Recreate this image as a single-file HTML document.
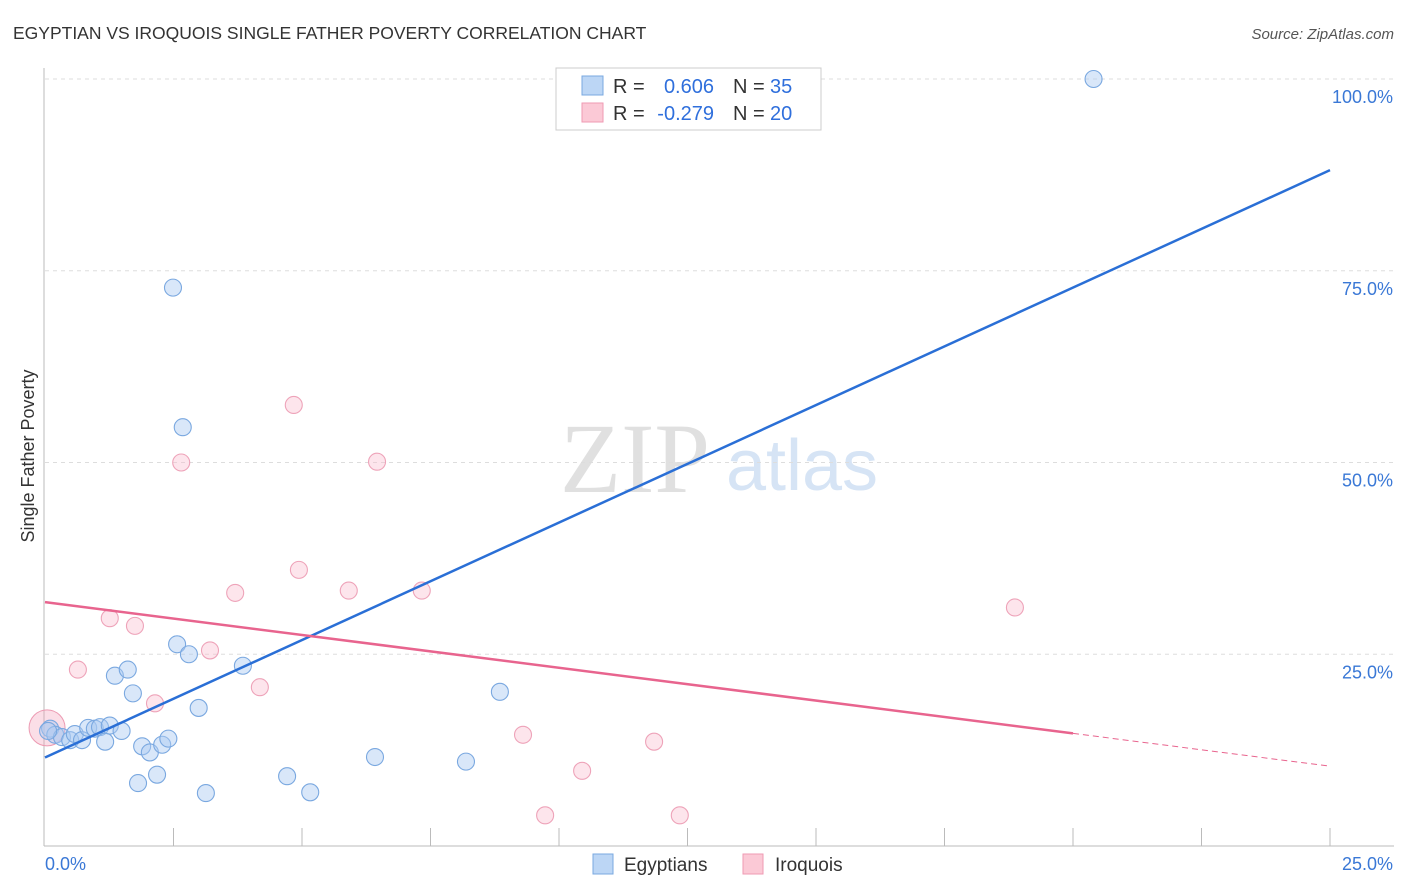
<!DOCTYPE html>
<html><head><meta charset="utf-8"><style>
body{margin:0;background:#fff;font-family:"Liberation Sans",sans-serif;}
svg{display:block}
</style></head><body>
<svg id="c" width="1406" height="892">
<text x="13" y="39" font-size="17.5" fill="#333">EGYPTIAN VS IROQUOIS SINGLE FATHER POVERTY CORRELATION CHART</text>
<text x="1394" y="39" font-size="15" fill="#555" text-anchor="end" font-style="italic">Source: ZipAtlas.com</text>
<text x="0" y="0" transform="translate(34,456) rotate(-90)" font-size="18" fill="#333" text-anchor="middle">Single Father Poverty</text>
<text x="635" y="492" font-size="100" fill="#e0e0e0" text-anchor="middle" font-family="Liberation Serif,serif">ZIP</text>
<text x="802" y="490" font-size="72" fill="#d6e4f5" text-anchor="middle">atlas</text>
<g id="grid"></g><g id="pts"></g><g id="lines"></g>
<g>
<rect x="556" y="68" width="265" height="62" fill="#fff" stroke="#ccc"/>
<rect x="582" y="76" width="21" height="19" fill="#bcd6f5" stroke="#7aa8e0"/>
<rect x="582" y="103" width="21" height="19" fill="#fbc9d6" stroke="#ef9ab3"/>
<text x="613" y="93" font-size="20" fill="#333">R =</text>
<text x="714" y="93" font-size="20" fill="#2f6fdc" text-anchor="end">0.606</text>
<text x="733" y="93" font-size="20" fill="#333">N =</text>
<text x="770" y="93" font-size="20" fill="#2f6fdc">35</text>
<text x="613" y="120" font-size="20" fill="#333">R =</text>
<text x="714" y="120" font-size="20" fill="#2f6fdc" text-anchor="end">-0.279</text>
<text x="733" y="120" font-size="20" fill="#333">N =</text>
<text x="770" y="120" font-size="20" fill="#2f6fdc">20</text>
</g>
<g>
<rect x="593" y="854" width="20" height="20" fill="#bcd6f5" stroke="#7aa8e0"/>
<text x="624" y="871" font-size="19" fill="#333">Egyptians</text>
<rect x="743" y="854" width="20" height="20" fill="#fbc9d6" stroke="#ef9ab3"/>
<text x="775" y="871" font-size="19" fill="#333">Iroquois</text>
</g>
<text x="45" y="870" font-size="18" fill="#3a78d6">0.0%</text>
<text x="1393" y="870" font-size="18" fill="#3a78d6" text-anchor="end">25.0%</text>
</svg>
<script>
const yTicks=[25,50,75,100];
const egX=[0.1,0.2,0.33,0.49,0.58,0.72,0.84,0.97,1.07,1.17,1.26,1.36,1.49,1.61,1.71,1.81,1.89,2.04,2.18,2.28,2.4,2.49,2.57,2.68,2.8,2.99,3.13,3.85,4.71,5.16,6.42,8.19,8.85,20.4,0.06];
const egY=[15.3,14.5,14.2,13.8,14.6,13.8,15.4,15.3,15.5,13.6,15.7,22.2,15,23,19.9,8.2,13,12.2,9.3,13.2,14,72.8,26.3,54.6,25,18,6.9,23.5,9.1,7,11.6,11,20.1,100,15];
const iqX=[0.04,0.64,1.26,1.75,2.14,2.65,3.21,3.7,4.18,4.84,4.94,5.91,6.46,7.33,9.3,9.73,10.45,11.85,12.35,18.87];
const iqY=[15.4,23,29.7,28.7,18.6,50,25.5,33,20.7,57.5,36,33.3,50.1,33.3,14.5,4,9.8,13.6,4,31.1];
const X=v=>45+v/25*1285, Y=v=>846-v/100*767;
const NS='http://www.w3.org/2000/svg';
function mk(t,a,p){const e=document.createElementNS(NS,t);for(const k in a)e.setAttribute(k,a[k]);document.getElementById(p).appendChild(e);return e;}
mk('line',{x1:44,y1:68,x2:44,y2:846,stroke:'#bbb'},'grid');
mk('line',{x1:44,y1:846,x2:1394,y2:846,stroke:'#bbb'},'grid');
for(let i=1;i<=10;i++)mk('line',{x1:X(i*2.5),y1:828,x2:X(i*2.5),y2:846,stroke:'#bbb'},'grid');
yTicks.forEach(t=>{
const l=mk('line',{x1:45,y1:Y(t),x2:1394,y2:Y(t),stroke:'#ddd','stroke-dasharray':'4,4'},'grid');


const tx=mk('text',{x:1393,y:Y(t)+24,'font-size':18,fill:'#3a78d6','text-anchor':'end'},'grid');tx.textContent=t.toFixed(1)+'%';


});
mk('circle',{cx:X(iqX[0]),cy:Y(iqY[0]),r:18,fill:'rgba(244,160,185,0.35)',stroke:'#ec9ab2'},'pts');
egX.forEach((x,i)=>{const c=mk('circle',{cx:X(x),cy:Y(egY[i]),r:8.5,fill:'rgba(170,202,242,0.45)',stroke:'#7aa8e0','stroke-width':1.1},'pts');

});
iqX.forEach((x,i)=>{if(i==0)return;const c=mk('circle',{cx:X(x),cy:Y(iqY[i]),r:8.5,fill:'rgba(250,190,208,0.4)',stroke:'#eea3b9','stroke-width':1.1},'pts');

});
function fit(xs,ys){const n=xs.length,mx=xs.reduce((a,b)=>a+b)/n,my=ys.reduce((a,b)=>a+b)/n;let sxy=0,sxx=0;xs.forEach((x,i)=>{sxy+=(x-mx)*(ys[i]-my);sxx+=(x-mx)**2});const b=sxy/sxx;return [my-b*mx,b];}
const [ea,eb]=fit(egX,egY);
let l=mk('line',{x1:X(0),y1:Y(ea),x2:X(25),y2:Y(ea+eb*25),stroke:'#2a6fd6','stroke-width':2.5},'lines');


const [ia,ib]=fit(iqX,iqY);
l=mk('line',{x1:X(0),y1:Y(ia),x2:X(20),y2:Y(ia+ib*20),stroke:'#e8648e','stroke-width':2.5},'lines');


l=mk('line',{x1:X(20),y1:Y(ia+ib*20),x2:X(25),y2:Y(ia+ib*25),stroke:'#e8648e','stroke-width':1,'stroke-dasharray':'6,4'},'lines');


</script>
</body></html>
